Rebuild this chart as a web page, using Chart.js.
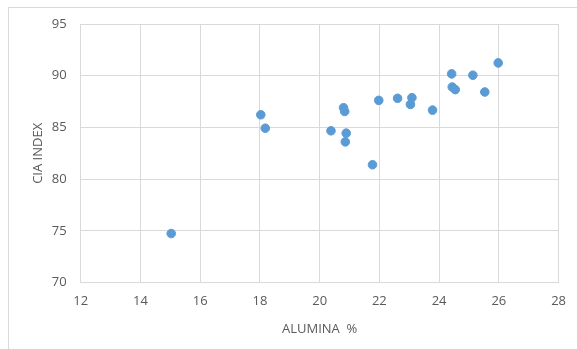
<!DOCTYPE html>
<html>
<head>
<meta charset="UTF-8">
<title>CIA vs Alumina</title>
<script src="https://cdn.jsdelivr.net/npm/chart.js"></script>
<style>
    body { margin: 0; background: #fff; overflow: hidden; }
    .moldura { position: absolute; left: 8px; top: 7px; width: 600px; height: 400px; border: 1px solid #d9d9d9; }
    #grafico { position: absolute; left: 0; top: 0; }
</style>
</head>
<body>
<div class="moldura"></div>
<canvas id="grafico" width="577" height="349"></canvas>

<script>
    // valores
    var alumina = [15.03, 18.03, 18.18, 20.38, 20.80, 20.84, 20.89, 20.86, 21.77, 21.98, 22.61, 23.09, 23.04, 23.78, 24.42, 24.44, 24.54, 25.13, 25.53, 25.98];
    var cia = [74.75, 86.23, 84.93, 84.68, 86.91, 86.55, 84.45, 83.61, 81.4, 87.62, 87.82, 87.88, 87.23, 86.68, 90.18, 88.91, 88.66, 90.05, 88.43, 91.24];

    var xTicks = [12, 14, 16, 18, 20, 22, 24, 26, 28];
    var yTicks = [70, 75, 80, 85, 90, 95];

    var pontos = [];
    for (var i = 0; i < alumina.length; i++) {
        pontos.push({ x: alumina[i], y: cia[i] });
    }

    var fonte = { family: 'Open Sans', size: 13 };
    var cinza = '#595959';

    new Chart(document.getElementById('grafico'), {
        type: 'scatter',
        data: {
            datasets: [{
                data: pontos,
                backgroundColor: '#5b9bd5',
                borderColor: '#5b9bd5',
                pointRadius: 4.3,
                pointHoverRadius: 4.3
            }]
        },
        options: {
            responsive: false,
            animation: false,
            plugins: { legend: { display: false }, tooltip: { enabled: false } },
            layout: { padding: { left: 30, right: 14, top: 24, bottom: 12 } },
            scales: {
                x: {
                    min: 12, max: 28,
                    afterBuildTicks: function (ax) { ax.ticks = xTicks.map(function (v) { return { value: v }; }); },
                    afterFit: function (ax) { ax.height = 54.3; },
                    grid: { color: '#d9d9d9', drawTicks: false },
                    border: { color: '#d9d9d9' },
                    ticks: { color: cinza, font: fonte, padding: 11, maxRotation: 0 },
                    title: { display: true, text: 'ALUMINA  %', color: cinza, font: fonte, padding: { top: 6, bottom: 0 } }
                },
                y: {
                    min: 70, max: 95,
                    afterBuildTicks: function (ax) { ax.ticks = yTicks.map(function (v) { return { value: v }; }); },
                    afterFit: function (ax) { ax.width = 50.7; },
                    grid: { color: '#d9d9d9', drawTicks: false },
                    border: { color: '#d9d9d9' },
                    ticks: { color: cinza, font: fonte, padding: 14 },
                    title: { display: true, text: 'CIA INDEX', color: cinza, font: fonte, padding: { top: 0, bottom: 0 } }
                }
            }
        }
    });
</script>
</body>
</html>
